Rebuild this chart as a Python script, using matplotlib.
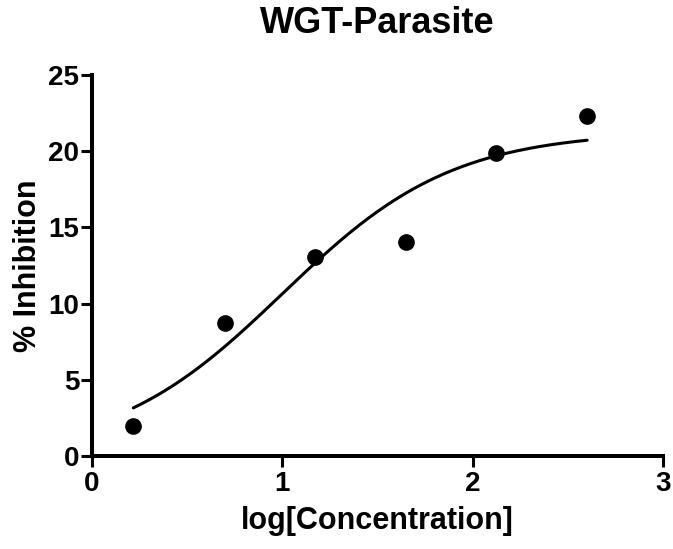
import numpy as np
import matplotlib
matplotlib.use("Agg")
import matplotlib.pyplot as plt

# data
log_conc = [0.217, 0.698, 1.171, 1.648, 2.121, 2.600]
inhibition = [1.97, 8.71, 13.08, 14.06, 19.86, 22.31]

# sigmoidal dose-response fit (bottom, top, logEC50, hill slope)
fit_bottom = 0.0
fit_top = 21.3
fit_logec50 = 1.0
fit_hill = 0.97

x_ticks = [0, 1, 2, 3]
y_ticks = [0, 5, 10, 15, 20, 25]

plt.rcParams['font.family'] = ['Liberation Sans', 'DejaVu Sans']
plt.rcParams['font.weight'] = 'bold'

fig = plt.figure(figsize=(6.73, 5.49), dpi=100)
ax = fig.add_axes([0.1367, 0.1694, 0.8489, 0.694])

xs = np.linspace(log_conc[0], log_conc[-1], 200)
ys = fit_bottom + (fit_top - fit_bottom) / (1 + 10 ** ((fit_logec50 - xs) * fit_hill))
ax.plot(xs, ys, color='black', lw=2.2, solid_capstyle='round')
ax.plot(log_conc, inhibition, 'o', color='black', markersize=11, clip_on=False)

ax.set_xlim(0, 3)
ax.set_ylim(0, 25)
ax.set_xticks(x_ticks)
ax.set_yticks(y_ticks)
ax.tick_params(axis='both', labelsize=20, width=2.2, length=8, pad=3)
ax.tick_params(axis='y', pad=1)

for side in ['top', 'right']:
    ax.spines[side].set_visible(False)
for side in ['left', 'bottom']:
    ax.spines[side].set_linewidth(2.9)

ax.set_xlabel('log[Concentration]', fontsize=22, fontweight='bold', labelpad=6)
ax.set_ylabel('% Inhibition', fontsize=22, fontweight='bold', labelpad=4)
ax.set_title('WGT-Parasite', fontsize=26, fontweight='bold', pad=30)

plt.savefig('out.png', dpi=100)
